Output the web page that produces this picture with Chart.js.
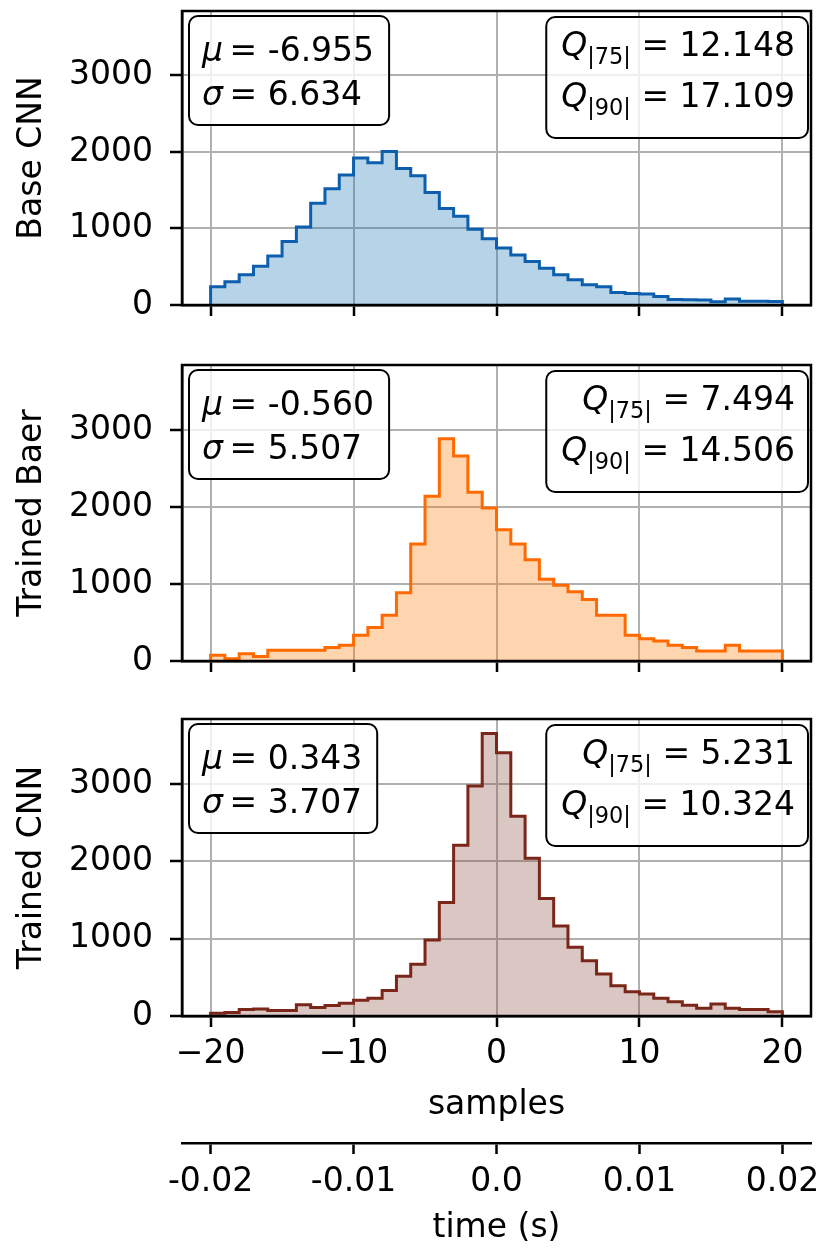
<!DOCTYPE html>
<html>
<head>
<meta charset="utf-8">
<script src="https://cdn.jsdelivr.net/npm/chart.js@4/dist/chart.umd.min.js"></script>
<style>
html,body{margin:0;padding:0;background:#fff;}
#wrap{position:relative;width:825px;height:1249px;overflow:hidden;background:#fff;}
#wrap canvas{position:absolute;left:0;}
</style>
</head>
<body>
<div id="wrap"></div>
<script>
// ---------- data ----------
const binEdges = [-20,-19,-18,-17,-16,-15,-14,-13,-12,-11,-10,-9,-8,-7,-6,-5,-4,-3,-2,-1,0,1,2,3,4,5,6,7,8,9,10,11,12,13,14,15,16,17,18,19,20];
const baseCnnCounts = [240,305,395,505,640,830,1020,1330,1520,1700,1920,1860,2005,1785,1690,1470,1260,1160,990,865,745,655,570,480,395,330,265,240,165,150,145,110,72,68,65,42,78,48,48,45];
const trainedBaerCounts = [75,30,95,60,140,140,140,140,175,205,335,435,595,885,1520,2140,2885,2660,2190,1985,1705,1520,1315,1060,985,900,800,595,595,335,290,260,205,175,130,130,205,130,130,130];
const trainedCnnCounts = [35,45,85,90,70,70,145,110,135,165,205,230,330,515,670,985,1470,2210,2975,3655,3405,2585,2040,1520,1165,890,715,545,390,315,285,230,185,140,100,155,100,85,85,55];

const panelLabels = ['Base CNN', 'Trained Baer', 'Trained CNN'];
const muValues = ['-6.955', '-0.560', '0.343'];
const sigmaValues = ['6.634', '5.507', '3.707'];
const q75Values = ['12.148', '7.494', '5.231'];
const q90Values = ['17.109', '14.506', '10.324'];

const sampleTicks = [-20, -10, 0, 10, 20];
const sampleTickLabels = ['\u221220', '\u221210', '0', '10', '20'];
const timeTicks = [-0.02, -0.01, 0, 0.01, 0.02];
const timeTickLabels = ['-0.02', '-0.01', '0.0', '0.01', '0.02'];
const countTicks = [0, 1000, 2000, 3000];
const countTickLabels = ['0', '1000', '2000', '3000'];
const sampleRange = [-22, 22];
const timeRange = [-0.022, 0.022];
const countRange = [0, 3843];

// ---------- style ----------
const FAMILY = '"DejaVu Sans", sans-serif';
const FS = 33;
const font = { family: FAMILY, size: FS };
const lineColors = ['#0d5fae', '#ff6a00', '#7a2618'];
const fillColors = ['rgba(31,119,180,0.32)', 'rgba(255,127,14,0.33)', 'rgba(140,80,70,0.32)'];
const GRID = '#b0b0b0';

Chart.defaults.color = '#000';
Chart.defaults.font.family = FAMILY;

function histPoints(counts) {
  const pts = [{ x: binEdges[0], y: 0 }];
  for (let i = 0; i < counts.length; i++) {
    pts.push({ x: binEdges[i], y: counts[i] });
    pts.push({ x: binEdges[i + 1], y: counts[i] });
  }
  pts.push({ x: binEdges[binEdges.length - 1], y: 0 });
  return pts;
}

function drawParts(ctx, parts, x, y, draw) {
  let w = 0;
  for (const p of parts) {
    const size = p.sub ? FS * 0.68 : FS;
    ctx.font = (p.it ? 'italic ' : '') + size + 'px ' + FAMILY;
    if (draw) ctx.fillText(p.t, x + w, y + (p.sub ? 8 : 0));
    w += ctx.measureText(p.t).width;
  }
  return w;
}

function boxPath(ctx, x, y, w, h, r) {
  ctx.beginPath();
  ctx.moveTo(x + r, y);
  ctx.lineTo(x + w - r, y);
  ctx.arcTo(x + w, y, x + w, y + r, r);
  ctx.lineTo(x + w, y + h - r);
  ctx.arcTo(x + w, y + h, x + w - r, y + h, r);
  ctx.lineTo(x + r, y + h);
  ctx.arcTo(x, y + h, x, y + h - r, r);
  ctx.lineTo(x, y + r);
  ctx.arcTo(x, y, x + r, y, r);
  ctx.closePath();
}

function drawBox(ctx, x, y, w, h) {
  boxPath(ctx, x, y, w, h, 9);
  ctx.fillStyle = 'rgba(255,255,255,0.8)';
  ctx.fill();
  ctx.lineWidth = 2;
  ctx.strokeStyle = '#000';
  ctx.stroke();
}

function makeOverlay(idx) {
  return {
    id: 'overlay' + idx,
    afterDraw(chart) {
      const ctx = chart.ctx;
      const a = chart.chartArea;
      ctx.save();
      // frame (all four spines)
      ctx.lineWidth = 2.5;
      ctx.strokeStyle = '#000';
      ctx.strokeRect(a.left, a.top, a.right - a.left, a.bottom - a.top);
      ctx.textBaseline = 'alphabetic';
      ctx.fillStyle = '#000';
      // left stats box
      const L1 = [{ t: '\u03bc', it: 1 }, { t: '\u2009= ' }, { t: muValues[idx] }];
      const L2 = [{ t: '\u03c3', it: 1 }, { t: '\u2009= ' }, { t: sigmaValues[idx] }];
      const lw = Math.max(drawParts(ctx, L1, 0, 0, false), drawParts(ctx, L2, 0, 0, false));
      const lx = a.left + 7, ly = a.top + 5;
      drawBox(ctx, lx, ly, lw + 28, 109);
      ctx.fillStyle = '#000';
      drawParts(ctx, L1, lx + 13, a.top + 50, true);
      drawParts(ctx, L2, lx + 13, a.top + 94, true);
      // right stats box
      const R1 = [{ t: 'Q', it: 1 }, { t: '|75|', sub: 1 }, { t: ' = ' }, { t: q75Values[idx] }];
      const R2 = [{ t: 'Q', it: 1 }, { t: '|90|', sub: 1 }, { t: ' = ' }, { t: q90Values[idx] }];
      const w1 = drawParts(ctx, R1, 0, 0, false);
      const w2 = drawParts(ctx, R2, 0, 0, false);
      const textRight = a.right - 16;
      const rw = Math.max(w1, w2);
      const bx = textRight - rw - 15;
      drawBox(ctx, bx, a.top + 6, a.right - 3 - bx, 121);
      ctx.fillStyle = '#000';
      drawParts(ctx, R1, textRight - w1, a.top + 45, true);
      drawParts(ctx, R2, textRight - w2, a.top + 96, true);
      ctx.restore();
    }
  };
}

function zeroPad(s) { s.paddingTop = 0; s.paddingBottom = 0; s.paddingLeft = 0; s.paddingRight = 0; }

function makePanel(idx, counts, canvasTop, canvasHeight, plotTop, plotBottom, isLast) {
  const canvas = document.createElement('canvas');
  canvas.width = 825;
  canvas.height = canvasHeight;
  canvas.style.top = canvasTop + 'px';
  canvas.style.width = '825px';
  canvas.style.height = canvasHeight + 'px';
  document.getElementById('wrap').appendChild(canvas);

  const padTop = plotTop - canvasTop;
  const xHeight = isLast ? 127 : canvasHeight - (plotBottom - canvasTop);

  const scales = {
    x: {
      type: 'linear', position: 'bottom', weight: 1,
      min: sampleRange[0], max: sampleRange[1],
      afterBuildTicks: s => { s.ticks = sampleTicks.map(v => ({ value: v })); },
      afterFit: s => { s.height = xHeight; zeroPad(s); },
      ticks: { display: isLast, padding: 8, maxRotation: 0, autoSkip: false, font,
               callback: (v, i) => sampleTickLabels[i] },
      grid: { color: GRID, lineWidth: 2, tickColor: '#000', tickWidth: 2.5, tickLength: 11, drawTicks: true },
      border: { display: true, color: '#000', width: 2.5 },
      title: { display: isLast, text: 'samples', font, padding: { top: 0, bottom: 18 } }
    },
    y: {
      type: 'linear', position: 'left',
      min: countRange[0], max: countRange[1],
      afterBuildTicks: s => { s.ticks = countTicks.map(v => ({ value: v })); },
      afterFit: s => { s.width = 182; zeroPad(s); },
      ticks: { padding: 17, font, callback: (v, i) => countTickLabels[i] },
      grid: { color: GRID, lineWidth: 2, tickColor: '#000', tickWidth: 2.5, tickLength: 12, drawTicks: true },
      border: { display: true, color: '#000', width: 2.5 },
      title: { display: true, text: panelLabels[idx], font, padding: { top: 13, bottom: 0 } }
    }
  };
  if (isLast) {
    scales.x2 = {
      type: 'linear', position: 'bottom', weight: 2,
      min: timeRange[0], max: timeRange[1],
      afterBuildTicks: s => { s.ticks = timeTicks.map(v => ({ value: v })); },
      afterFit: s => { s.height = 106; zeroPad(s); },
      ticks: { display: true, padding: 9, maxRotation: 0, autoSkip: false, font,
               callback: (v, i) => timeTickLabels[i] },
      grid: { display: true, drawOnChartArea: false, drawTicks: true, color: '#000', tickColor: '#000', tickWidth: 2.5, tickLength: 11 },
      border: { display: true, color: '#000', width: 2.5 },
      title: { display: true, text: 'time (s)', font, padding: { top: 0, bottom: 1 } }
    };
  }

  return new Chart(canvas, {
    type: 'line',
    data: {
      datasets: [{
        label: panelLabels[idx],
        data: histPoints(counts),
        xAxisID: 'x', yAxisID: 'y',
        borderColor: lineColors[idx],
        backgroundColor: fillColors[idx],
        borderWidth: 3,
        borderJoinStyle: 'miter',
        fill: 'origin',
        pointRadius: 0,
        tension: 0
      }]
    },
    options: {
      responsive: false,
      animation: false,
      devicePixelRatio: 1,
      parsing: false,
      normalized: true,
      layout: { padding: { left: 0, right: 14, top: padTop, bottom: 0 } },
      plugins: { legend: { display: false }, tooltip: { enabled: false }, title: { display: false } },
      scales
    },
    plugins: [makeOverlay(idx)]
  });
}

makePanel(0, baseCnnCounts, 0, 335, 11, 305, false);
makePanel(1, trainedBaerCounts, 335, 355, 365, 661, false);
makePanel(2, trainedCnnCounts, 690, 559, 719, 1016, true);
</script>
</body>
</html>
